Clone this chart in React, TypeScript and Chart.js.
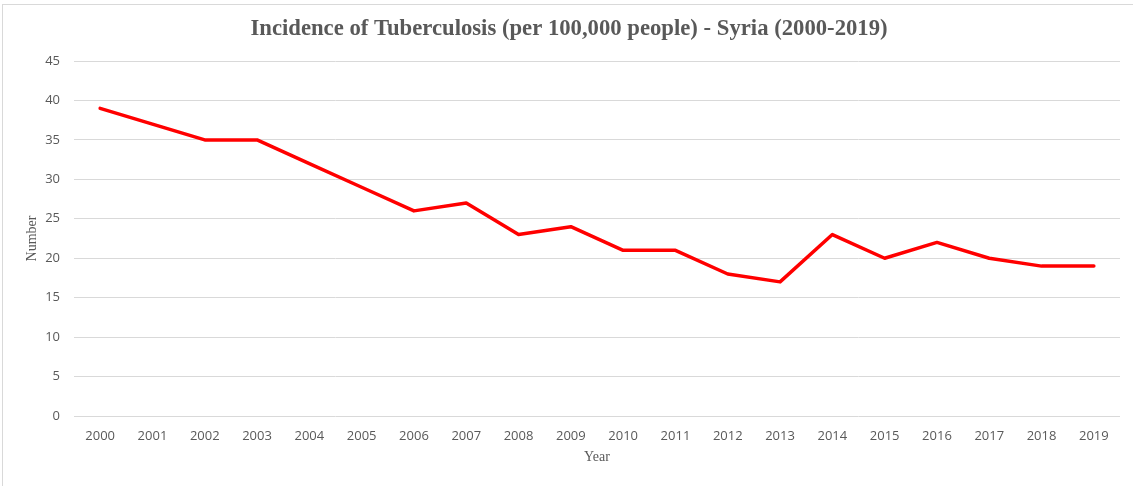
import React, { useEffect, useRef } from "react";
import { Chart, registerables } from "chart.js";

Chart.register(...registerables);

const years = [
  "2000", "2001", "2002", "2003", "2004", "2005", "2006", "2007", "2008", "2009",
  "2010", "2011", "2012", "2013", "2014", "2015", "2016", "2017", "2018", "2019",
];
const incidence = [39, 37, 35, 35, 32, 29, 26, 27, 23, 24, 21, 21, 18, 17, 23, 20, 22, 20, 19, 19];

const TITLE = "Incidence of Tuberculosis (per 100,000 people) - Syria (2000-2019)";
const TEXT_GRAY = "#595959";
const GRID_GRAY = "#d9d9d9";
const SERIF = "'Liberation Serif', 'Times New Roman', serif";

// Draws the heading centred over the whole chart frame.
const headingPlugin = {
  id: "heading",
  afterDraw(chart: any) {
    const ctx = chart.ctx;
    ctx.save();
    ctx.fillStyle = TEXT_GRAY;
    ctx.font = `bold 22.7px ${SERIF}`;
    ctx.textAlign = "center";
    ctx.textBaseline = "middle";
    ctx.fillText(TITLE, 569, 29);
    ctx.restore();
  },
};

export default function App() {
  const canvasRef = useRef<HTMLCanvasElement | null>(null);

  useEffect(() => {
    if (!canvasRef.current) return;
    const chart = new Chart(canvasRef.current, {
      type: "line",
      data: {
        labels: years,
        datasets: [
          {
            data: incidence,
            borderColor: "#ff0000",
            backgroundColor: "#ff0000",
            borderWidth: 3.5,
            pointRadius: 0,
            pointHoverRadius: 0,
            tension: 0,
            borderJoinStyle: "round",
            borderCapStyle: "round",
          },
        ],
      },
      options: {
        responsive: false,
        animation: false,
        layout: { padding: { left: 0, right: 13, top: 61, bottom: 0 } },
        plugins: {
          legend: { display: false },
          tooltip: { enabled: false },
          title: { display: false },
        },
        scales: {
          x: {
            offset: true,
            grid: { display: false, drawTicks: false },
            border: { display: false },
            ticks: {
              color: TEXT_GRAY,
              font: { family: "'Open Sans', sans-serif", size: 13 },
              padding: 12,
              maxRotation: 0,
              autoSkip: false,
            },
            title: {
              display: true,
              text: "Year",
              color: TEXT_GRAY,
              font: { family: SERIF, size: 14 },
              padding: { top: 0, bottom: 20 },
            },
            afterFit: (scale: any) => {
              scale.height = 70;
            },
          },
          y: {
            min: 0,
            max: 45,
            grid: { color: GRID_GRAY, lineWidth: 1, drawTicks: false },
            border: { display: false },
            ticks: {
              stepSize: 5,
              color: TEXT_GRAY,
              font: { family: "'Open Sans', sans-serif", size: 13 },
              padding: 14,
            },
            title: {
              display: true,
              text: "Number",
              color: TEXT_GRAY,
              font: { family: SERIF, size: 14 },
              padding: { top: 24, bottom: 0 },
            },
            afterFit: (scale: any) => {
              scale.width = 74;
            },
          },
        },
      },
      plugins: [headingPlugin],
    });
    return () => chart.destroy();
  }, []);

  return (
    <div
      style={{
        position: "fixed",
        left: 0,
        top: 0,
        width: 1133,
        height: 486,
        background: "#ffffff",
        overflow: "hidden",
      }}
    >
      <canvas ref={canvasRef} width={1133} height={486} style={{ position: "absolute", left: 0, top: 0 }} />
      <div
        style={{
          position: "absolute",
          left: 2,
          top: 4,
          width: 1140,
          height: 490,
          border: `1px solid ${GRID_GRAY}`,
          boxSizing: "border-box",
          pointerEvents: "none",
        }}
      />
    </div>
  );
}
